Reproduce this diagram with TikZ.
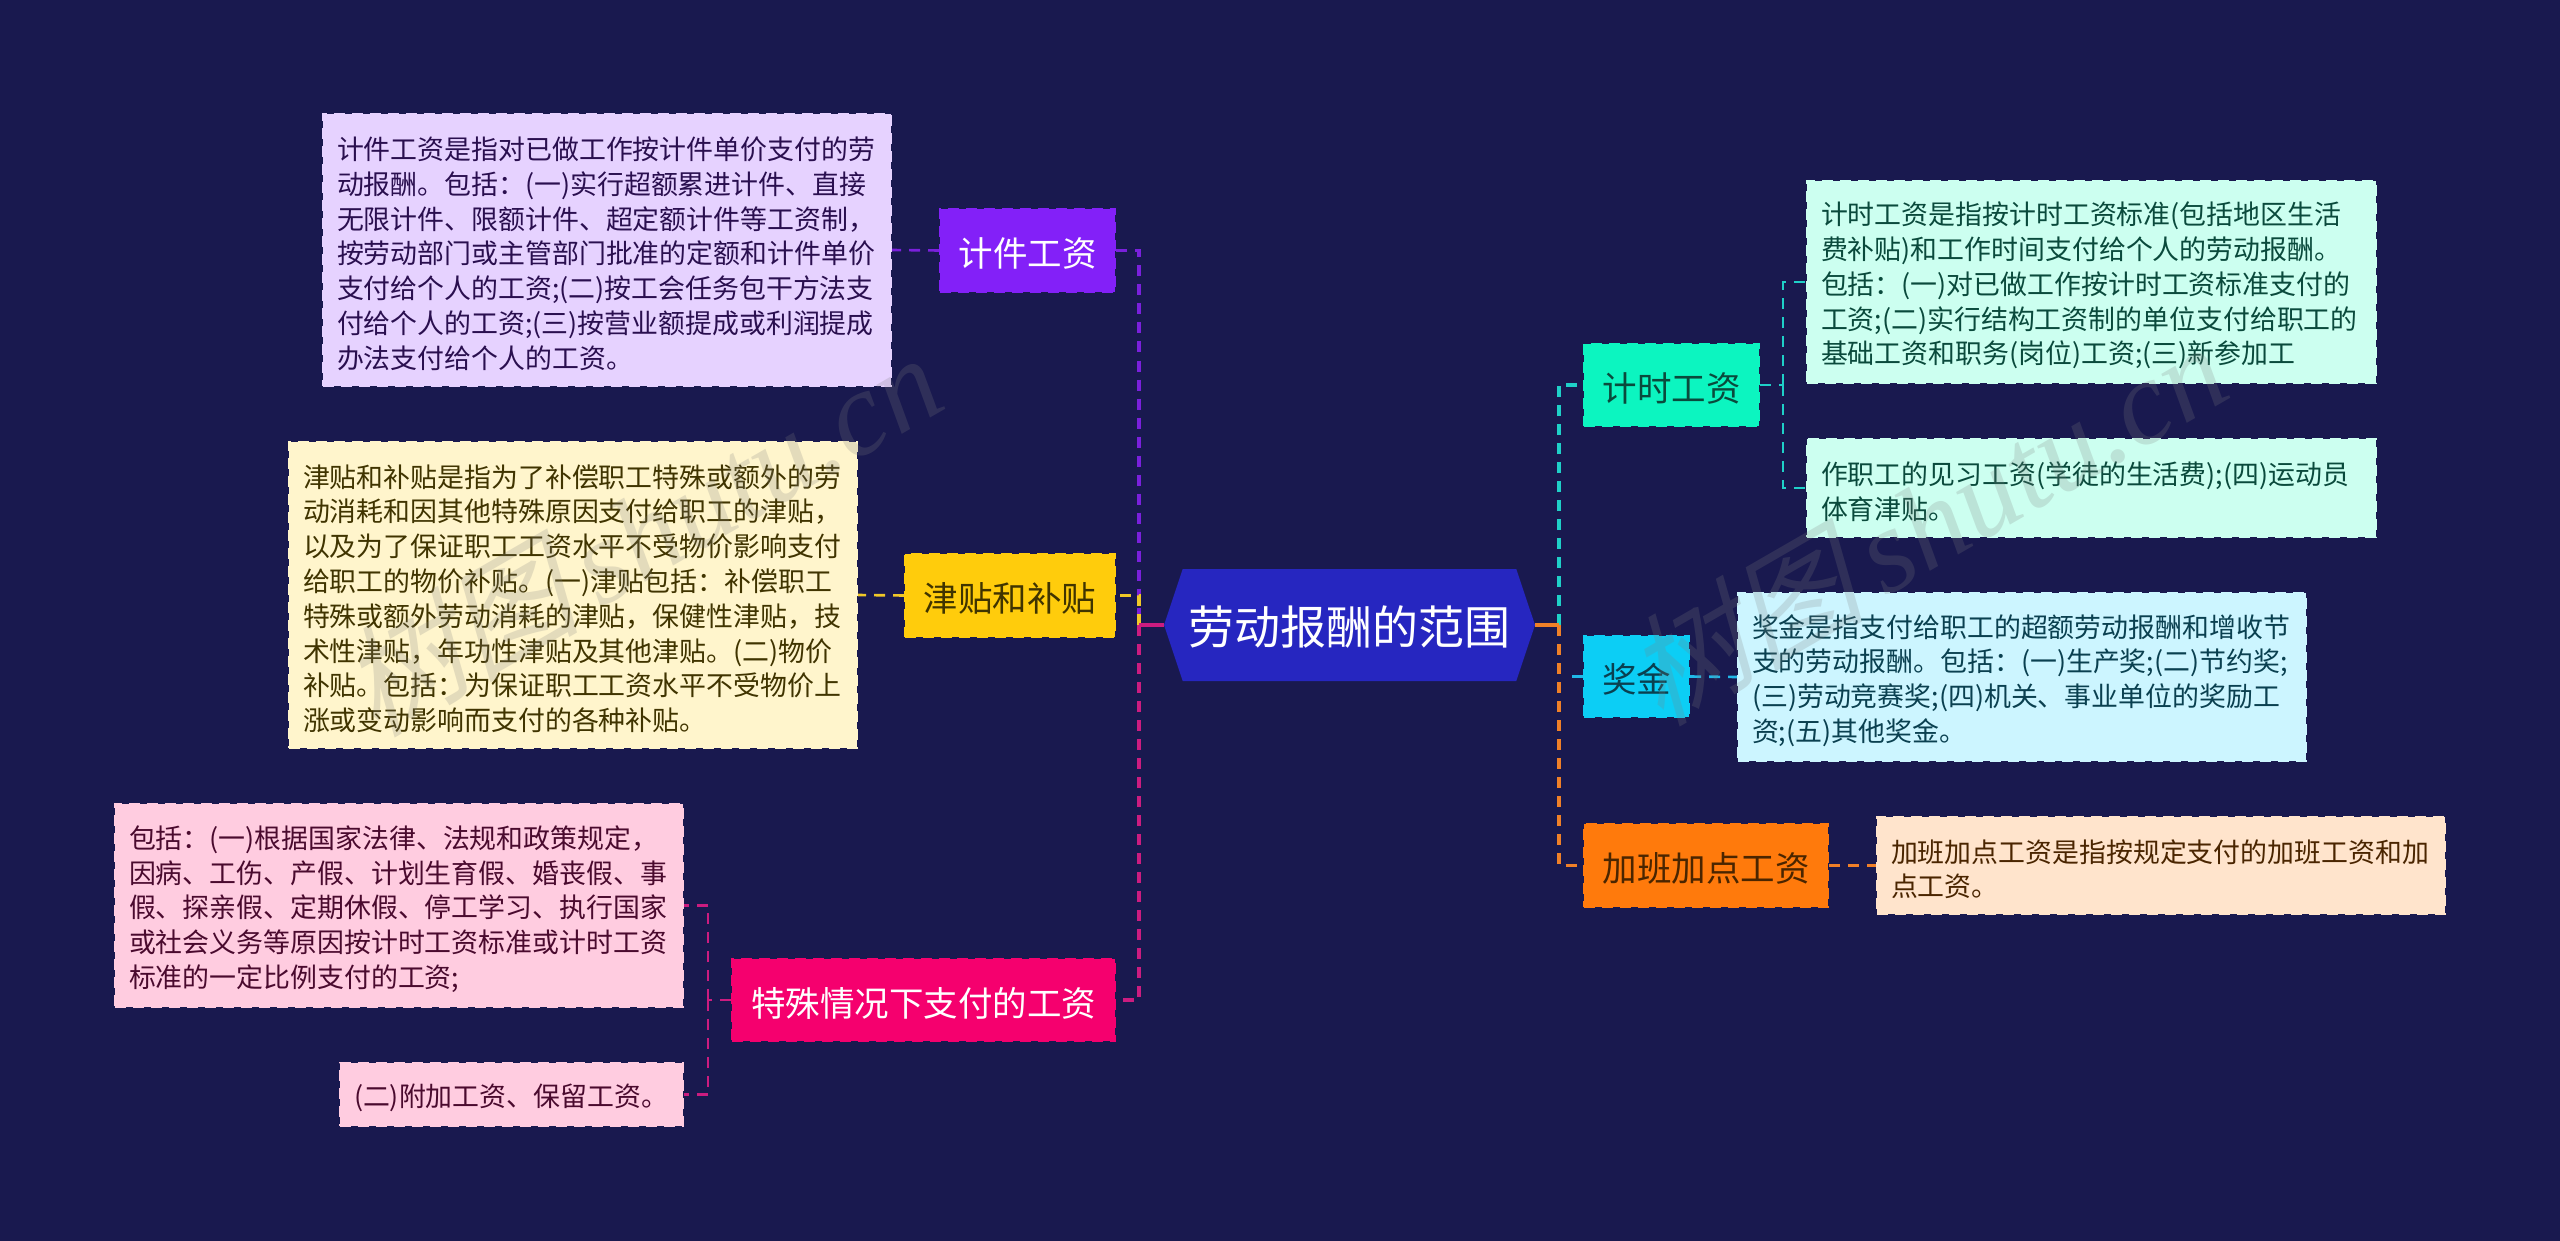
\documentclass[tikz,border=0pt]{standalone}
\usepackage{fontspec}
\usetikzlibrary{shapes.symbols}
\setmainfont{Noto Sans CJK SC}
\newfontfamily\wmcjk[FakeSlant=0.25]{Noto Sans CJK SC}
\newfontfamily\wmlat{Liberation Serif}
\definecolor{bgc}{HTML}{19194F}
\definecolor{hexc}{HTML}{2626C0}
\definecolor{pA}{HTML}{8320F8}\definecolor{pB}{HTML}{E6D2FF}\definecolor{pL}{HTML}{7A20DC}\definecolor{pT}{HTML}{2A0F4F}
\definecolor{yA}{HTML}{FFCC0C}\definecolor{yB}{HTML}{FFF5CC}\definecolor{yL}{HTML}{F0C828}\definecolor{yT}{HTML}{403400}
\definecolor{kA}{HTML}{F5006E}\definecolor{kB}{HTML}{FFCCE0}\definecolor{kL}{HTML}{CC1C80}\definecolor{kT}{HTML}{4A0A2E}
\definecolor{tA}{HTML}{0CF5C0}\definecolor{tB}{HTML}{CCFFF0}\definecolor{tL}{HTML}{1FD0C8}\definecolor{tT}{HTML}{0A4A3C}
\definecolor{cA}{HTML}{0CCEF5}\definecolor{cB}{HTML}{CCF5FF}\definecolor{cL}{HTML}{20B8E8}\definecolor{cT}{HTML}{0A4050}
\definecolor{oA}{HTML}{FF7A0C}\definecolor{oB}{HTML}{FFE4CC}\definecolor{oL}{HTML}{F08028}\definecolor{oT}{HTML}{4A2500}
\tikzset{
  boxbase/.style={rectangle,inner sep=0pt,line width=2pt,dash pattern=on 11pt off 7pt,anchor=center},
  branch/.style={boxbase,font=\fontsize{34.5}{40}\selectfont,align=center,text height=33pt,text depth=1pt},
  leaf/.style={boxbase,font=\fontsize{26.9}{34.8}\selectfont,align=left,inner xsep=14pt,text height=30pt},
  trunk/.style={line width=3.6pt,dash pattern=on 11pt off 8pt},
  stub/.style={line width=4pt},
  twig/.style={line width=2.6pt,dash pattern=on 11pt off 8pt},
  mark wm/.style={font=\fontsize{120}{120}\selectfont,text=gray,opacity=.22,rotate=30,inner sep=0pt}
}
\begin{document}
\begin{tikzpicture}[x=1pt,y=-1pt]
\fill[bgc] (0,0) rectangle (2560,1241);
\useasboundingbox (0,0) rectangle (2560,1241);
% root
\node[signal,signal to=west and east,signal pointer angle=143,fill=hexc,minimum width=371pt,minimum height=112pt,inner sep=0pt,text=white,font=\fontsize{46}{50}\selectfont,text height=42pt,text depth=4pt] (root) at (1349.5,625) {劳动报酬的范围};
\coordinate (LT) at (1139,625);
\coordinate (RT) at (1559,625);
% branches
\node[branch,fill=pA,draw=pA,text=white,minimum width=175pt,minimum height=83pt] (n1) at (1027.5,250.5) {计件工资};
\node[branch,fill=yA,draw=yA,text=yT,minimum width=210pt,minimum height=83pt] (n2) at (1010,595.5) {津贴和补贴};
\node[branch,fill=kA,draw=kA,text=white,minimum width=383pt,minimum height=82pt] (n3) at (923.5,1000) {特殊情况下支付的工资};
\node[branch,fill=tA,draw=tA,text=tT,minimum width=175pt,minimum height=82pt] (r1) at (1671.5,385) {计时工资};
\node[branch,fill=cA,draw=cA,text=cT,minimum width=105pt,minimum height=81pt] (r2) at (1636.5,676.5) {奖金};
\node[branch,fill=oA,draw=oA,text=oT,minimum width=244pt,minimum height=83pt] (r3) at (1706,865.5) {加班加点工资};
% leaves
\node[leaf,fill=pB,draw=pB,text=pT,text width=540pt,minimum height=272pt] (t1) at (607,250) {计件工资是指对已做工作按计件单价支付的劳\\动报酬。包括：(一)实行超额累进计件、直接\\无限计件、限额计件、超定额计件等工资制，\\按劳动部门或主管部门批准的定额和计件单价\\支付给个人的工资;(二)按工会任务包干方法支\\付给个人的工资;(三)按营业额提成或利润提成\\办法支付给个人的工资。};
\node[leaf,fill=yB,draw=yB,text=yT,text width=540pt,minimum height=306pt] (t2) at (573,595) {津贴和补贴是指为了补偿职工特殊或额外的劳\\动消耗和因其他特殊原因支付给职工的津贴，\\以及为了保证职工工资水平不受物价影响支付\\给职工的物价补贴。(一)津贴包括：补偿职工\\特殊或额外劳动消耗的津贴，保健性津贴，技\\术性津贴，年功性津贴及其他津贴。(二)物价\\补贴。包括：为保证职工工资水平不受物价上\\涨或变动影响而支付的各种补贴。};
\node[leaf,fill=kB,draw=kB,text=kT,text width=540pt,minimum height=203pt] (t3) at (399,905.5) {包括：(一)根据国家法律、法规和政策规定，\\因病、工伤、产假、计划生育假、婚丧假、事\\假、探亲假、定期休假、停工学习、执行国家\\或社会义务等原因按计时工资标准或计时工资\\标准的一定比例支付的工资;};
\node[leaf,fill=kB,draw=kB,text=kT,text width=315pt,minimum height=63pt] (t4) at (511.5,1094.5) {(二)附加工资、保留工资。};
\node[leaf,fill=tB,draw=tB,text=tT,text width=541pt,minimum height=202pt] (s1) at (2091.5,282) {计时工资是指按计时工资标准(包括地区生活\\费补贴)和工作时间支付给个人的劳动报酬。\\包括：(一)对已做工作按计时工资标准支付的\\工资;(二)实行结构工资制的单位支付给职工的\\基础工资和职务(岗位)工资;(三)新参加工};
\node[leaf,fill=tB,draw=tB,text=tT,text width=541pt,minimum height=98pt] (s2) at (2091.5,488) {作职工的见习工资(学徒的生活费);(四)运动员\\体育津贴。};
\node[leaf,fill=cB,draw=cB,text=cT,text width=540pt,minimum height=168pt] (s3) at (2022,677) {奖金是指支付给职工的超额劳动报酬和增收节\\支的劳动报酬。包括：(一)生产奖;(二)节约奖;\\(三)劳动竞赛奖;(四)机关、事业单位的奖励工\\资;(五)其他奖金。};
\node[leaf,fill=oB,draw=oB,text=oT,text width=540pt,minimum height=97pt] (s4) at (2161,865.5) {加班加点工资是指按规定支付的加班工资和加\\点工资。};
% main connectors
\draw[trunk,pL] (n1.east) -| (LT);
\draw[trunk,kL] (LT) |- (n3.east);
\draw[trunk,yL] (LT) |- (n2.east);
\draw[stub,kL] (root.west) -- (LT);
\draw[trunk,tL] (RT) |- (r1.west);
\draw[trunk,oL] (RT) |- (r3.west);
\draw[trunk,cL] (r2.west) -- ([xshift=10pt]RT |- r2.west);
\draw[stub,oL] (root.east) -- (RT);
% sub connectors
\draw[twig,pL] (n1.west) -- (t1.east);
\draw[twig,yL] (n2.west) -- (t2.east);
\coordinate (LB) at (708,1000);
\draw[twig,kL] (n3.west) -- (LB);
\draw[twig,kL] (LB) |- (t3.east);
\draw[twig,kL] (LB) |- (t4.east);
\coordinate (RB) at (1783,385);
\draw[twig,tL] (r1.east) -- (RB);
\draw[twig,tL] (RB) |- (s1.west);
\draw[twig,tL] (RB) |- (s2.west);
\draw[twig,cL] (r2.east) -- (s3.west);
\draw[twig,oL] (r3.east) -- (s4.west);
% watermark
\node[mark wm] (wm1) at (640,533) {{\wmcjk 树图}\,{\wmlat\itshape shutu.cn}};
\node[mark wm] (wm2) at (1925,522) {{\wmcjk 树图}\,{\wmlat\itshape shutu.cn}};
\end{tikzpicture}
\end{document}
